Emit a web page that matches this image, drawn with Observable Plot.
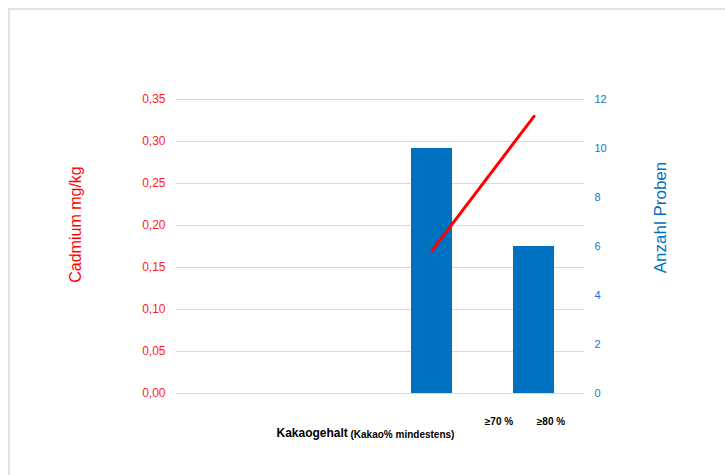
<!DOCTYPE html>
<html><head><meta charset="utf-8">
<script src="https://cdn.jsdelivr.net/npm/d3@7"></script>
<script src="https://cdn.jsdelivr.net/npm/@observablehq/plot@0.6"></script>
<style>
body{margin:0;background:#fff;font-family:"Liberation Sans",Arial,sans-serif}
#frame{position:absolute;left:8px;top:8px;width:800px;height:480px;border:2px solid #e2e2e2;box-sizing:border-box}
#chart{position:absolute;left:0;top:0}
</style></head><body>
<div id="frame"></div><div id="chart"></div>
<script>
const categories = ["", " ", "≥70 %", "≥80 %"];
const anzahlProben = [null, null, 10, 6];
const cadmium = [null, null, 0.17, 0.33];
const leftTicks = [0, 0.05, 0.10, 0.15, 0.20, 0.25, 0.30, 0.35];
const rightTicks = [0, 2, 4, 6, 8, 10, 12];
const leftMax = 0.35, rightMax = 12;

const k = leftMax / rightMax;
const rows = categories.map((c, i) => ({cat: c, n: anzahlProben[i], cd: cadmium[i]}));
const barRows = rows.filter(d => d.n != null);
const lineRows = rows.filter(d => d.cd != null);
const RED = "#ff2020", BLUE = "#0070c0";
const fmt = v => v.toFixed(2).replace(".", ",");

const chart = Plot.plot({
  width: 725, height: 475,
  marginLeft: 176, marginRight: 141, marginTop: 99, marginBottom: 82,
  style: {fontFamily: "'Liberation Sans', Arial, sans-serif", background: "transparent", overflow: "visible"},
  x: {type: "band", domain: categories, paddingInner: 0.6, paddingOuter: 0.3, axis: null},
  y: {domain: [0, leftMax], axis: null},
  marks: [
    Plot.gridY(leftTicks, {stroke: "#d9d9d9", strokeOpacity: 1, strokeWidth: 1}),
    Plot.axisY(leftTicks, {anchor: "left", tickSize: 0, tickPadding: 11, tickFormat: fmt, fill: RED, fontSize: 12, label: null}),
    Plot.axisY(rightTicks.map(v => v * k), {anchor: "right", tickSize: 0, tickPadding: 10, tickFormat: v => String(Math.round(v / k)), fill: "#1a74c4", fontSize: 11, label: null}),
    Plot.barY(barRows, {x: "cat", y: d => d.n * k, fill: BLUE}),
    Plot.line(lineRows, {x: "cat", y: "cd", stroke: "#ff0000", strokeWidth: 3}),
    Plot.axisX([categories[2]], {anchor: "bottom", tickSize: 0, tickPadding: 24, dx: 67, fontSize: 10, fontWeight: "bold", label: null}),
    Plot.axisX([categories[3]], {anchor: "bottom", tickSize: 0, tickPadding: 24, dx: 17, fontSize: 10, fontWeight: "bold", label: null}),
    Plot.text(["Cadmium mg/kg"], {frameAnchor: "left", dx: -101, dy: -22, rotate: -90, fill: "#ff0000", fontSize: 16, textAnchor: "middle"}),
    Plot.text(["Anzahl Proben"], {frameAnchor: "right", dx: 76, dy: -29, rotate: -90, fill: BLUE, fontSize: 17, textAnchor: "middle"}),
    Plot.text(["Kakaogehalt"], {frameAnchor: "bottom-left", dx: 100, dy: 43, textAnchor: "start", fontSize: 12, fontWeight: "bold", fill: "#000"}),
    Plot.text(["(Kakao% mindestens)"], {frameAnchor: "bottom-left", dx: 174, dy: 44, textAnchor: "start", fontSize: 10, fontWeight: "bold", fill: "#000"})
  ]
});
document.getElementById("chart").appendChild(chart);
</script>
</body></html>
